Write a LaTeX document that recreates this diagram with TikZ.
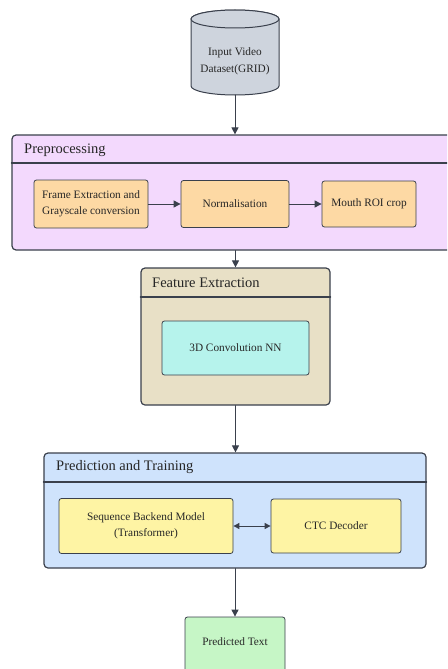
\documentclass[tikz,border=0pt]{standalone}
\usepackage{fontspec}
\setmainfont{Liberation Serif}
\usetikzlibrary{arrows.meta}

\definecolor{edge}{HTML}{3A404C}
\definecolor{dbFill}{HTML}{CED4DD}
\definecolor{preFill}{HTML}{F3D9FD}
\definecolor{stepFill}{HTML}{FDD9A4}
\definecolor{featFill}{HTML}{E8E0C6}
\definecolor{convFill}{HTML}{B6F3EC}
\definecolor{predFill}{HTML}{CFE3FC}
\definecolor{modelFill}{HTML}{FEF4A4}
\definecolor{outFill}{HTML}{C6F6C6}

\begin{document}
\begin{tikzpicture}[
  x=1pt, y=-1pt,
  line cap=round,
  line join=round,
  every node/.style={font=\fontsize{11.3}{16.5}\selectfont, text=black!85, inner sep=0pt},
  group/.style={draw=edge, line width=1.2pt, rounded corners=4pt},
  groupline/.style={draw=edge, line width=1.2pt},
  grouptitle/.style={font=\fontsize{14.5}{16}\selectfont, anchor=west},
  box/.style={draw=edge, line width=0.8pt, rounded corners=2.5pt, align=center},
  flow/.style={draw=edge, line width=1pt, -{Triangle[length=7pt,width=7pt]}},
  both/.style={draw=edge, line width=1pt, {Triangle[length=6pt,width=6pt]}-{Triangle[length=6pt,width=6pt]}}
]
\useasboundingbox (0,0) rectangle (447,669);
\clip (0,0) rectangle (447,669);

% ------------------------------------------------------------------
% Input dataset
% ------------------------------------------------------------------
\draw[draw=edge, fill=dbFill, line width=1pt]
  (191,19) -- (191,86) arc[start angle=180, end angle=0, x radius=44, y radius=9]
  -- (279,19) arc[start angle=0, end angle=-180, x radius=44, y radius=9] -- cycle;
\draw[draw=edge, fill=dbFill, line width=1pt] (235,19) ellipse[x radius=44, y radius=9];
\coordinate (dbB) at (235,95);
\node[align=center] (db) at (235,61.5) {Input Video\\Dataset(GRID)};

% ------------------------------------------------------------------
% Preprocessing
% ------------------------------------------------------------------
\node[group, fill=preFill, minimum width=448pt, minimum height=115pt] (pre) at (236,192.5) {};
\draw[groupline] (pre.west |- 0,163) -- (pre.east |- 0,163);
\node[grouptitle] (preT) at (24,150) {Preprocessing};

\node[box, fill=stepFill, minimum width=114pt, minimum height=48pt] (frame) at (91,204)
  {Frame Extraction and\\Grayscale conversion};
\node[box, fill=stepFill, minimum width=108pt, minimum height=47pt] (norm) at (235,204)
  {Normalisation};
\node[box, fill=stepFill, minimum width=94pt, minimum height=46pt] (roi) at (369,204)
  {Mouth ROI crop};

\draw[flow] (frame) -- (norm);
\draw[flow] (norm) -- (roi);

% ------------------------------------------------------------------
% Feature extraction
% ------------------------------------------------------------------
\node[group, fill=featFill, minimum width=189pt, minimum height=137pt] (feat) at (235.5,336.5) {};
\draw[groupline] (feat.west |- 0,297) -- (feat.east |- 0,297);
\node[grouptitle] (featT) at (152,283) {Feature Extraction};

\node[box, fill=convFill, minimum width=147pt, minimum height=54pt] (conv) at (235.5,348)
  {3D Convolution NN};

% ------------------------------------------------------------------
% Prediction and training
% ------------------------------------------------------------------
\node[group, fill=predFill, minimum width=382pt, minimum height=115pt] (pred) at (235,510.5) {};
\draw[groupline] (pred.west |- 0,482) -- (pred.east |- 0,482);
\node[grouptitle] (predT) at (56,467) {Prediction and Training};

\node[box, fill=modelFill, minimum width=174pt, minimum height=55pt] (seq) at (146,526)
  {Sequence Backend Model\\(Transformer)};
\node[box, fill=modelFill, minimum width=130pt, minimum height=54pt] (ctc) at (336,526)
  {CTC Decoder};

\draw[both] (seq) -- (ctc);

% ------------------------------------------------------------------
% Output
% ------------------------------------------------------------------
\node[box, fill=outFill, minimum width=100pt, minimum height=62pt, text depth=12pt]
  (out) at (235,648) {Predicted Text};

% ------------------------------------------------------------------
% Main flow
% ------------------------------------------------------------------
\draw[flow] (dbB) -- (dbB |- pre.north);
\draw[flow] (pre.south -| feat.north) -- (feat.north);
\draw[flow] (feat.south) -- (feat.south |- pred.north);
\draw[flow] (pred.south -| out.north) -- (out.north);

\end{tikzpicture}
\end{document}
